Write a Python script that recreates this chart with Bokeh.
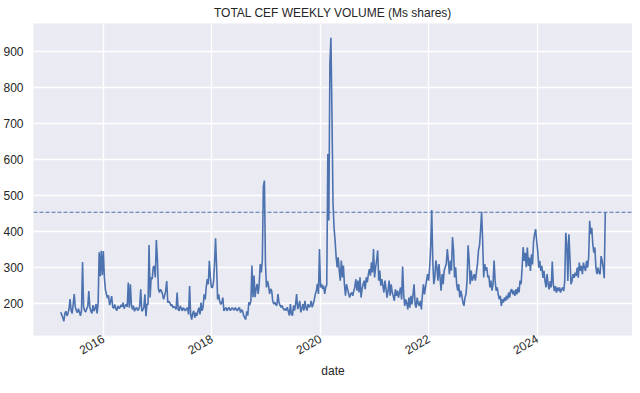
import pandas as pd
from math import pi
from bokeh.plotting import figure
from bokeh.models import Range1d, FixedTicker, DatetimeTickFormatter, Span, Title
from bokeh.embed import file_html
from bokeh.resources import INLINE

# ---- data: total CEF weekly volume (Ms shares), weekly from 2015-03-20 ----
first_week = "2015-03-20"

v2015 = [175, 168, 160, 150, 172, 178, 165, 172, 185, 212, 180, 172, 198, 226, 190, 180,
         174, 185, 176, 165, 180, 315, 190, 180, 176, 185, 190, 234, 190, 178, 172, 195,
         178, 186, 198, 172, 200, 342, 275, 346, 278]
v2016 = [345, 272, 238, 225, 215, 222, 195, 205, 220, 190, 186, 197, 184, 180, 193, 186,
         188, 196, 190, 202, 185, 193, 198, 190, 258, 188, 253, 196, 183, 193, 178, 185,
         188, 180, 183, 193, 239, 178, 182, 188, 225, 164, 198, 197, 362, 216, 272, 267,
         300, 304, 272, 376, 323]
v2017 = [240, 230, 239, 234, 225, 211, 222, 234, 262, 202, 206, 202, 193, 197, 188, 191,
         188, 183, 230, 183, 179, 193, 186, 179, 188, 183, 179, 185, 188, 169, 248, 169,
         155, 172, 179, 160, 174, 165, 178, 188, 169, 202, 179, 190, 225, 211, 244, 267,
         253, 318, 272, 244]
v2018 = [244, 258, 309, 381, 300, 211, 225, 205, 197, 202, 216, 179, 185, 188, 179, 186,
         188, 180, 183, 188, 184, 181, 188, 183, 179, 186, 188, 174, 182, 179, 166, 160,
         155, 178, 166, 203, 195, 207, 305, 217, 277, 217, 240, 254, 226, 254, 309, 286,
         319, 525, 541, 310]
v2019 = [244, 262, 249, 226, 240, 235, 207, 198, 203, 196, 194, 226, 203, 195, 189, 194,
         186, 181, 185, 180, 189, 178, 166, 198, 170, 166, 194, 180, 198, 226, 184, 192,
         207, 175, 185, 198, 180, 207, 188, 180, 198, 189, 192, 207, 189, 198, 210, 226,
         235, 254, 226, 351]
v2020 = [244, 254, 240, 249, 226, 244, 252, 615, 430, 865, 938, 726, 480, 411, 375, 330,
         300, 328, 291, 263, 319, 272, 305, 253, 221, 253, 239, 228, 216, 225, 230, 221,
         235, 245, 267, 235, 263, 230, 272, 216, 240, 253, 263, 239, 272, 258, 280, 295,
         277, 314, 286, 351]
v2021 = [272, 300, 319, 347, 263, 291, 249, 267, 249, 230, 263, 240, 216, 235, 263, 221,
         253, 230, 220, 207, 239, 221, 235, 216, 230, 244, 211, 302, 225, 193, 211, 200,
         183, 216, 188, 221, 197, 225, 253, 197, 188, 216, 200, 193, 207, 183, 221, 253,
         225, 245, 263, 281, 263]
v2022 = [300, 356, 459, 319, 253, 272, 319, 300, 263, 309, 272, 235, 281, 253, 291, 300,
         309, 351, 319, 281, 319, 291, 384, 347, 272, 300, 253, 235, 253, 216, 235, 221,
         202, 193, 216, 225, 263, 361, 319, 253, 291, 263, 272, 281, 263, 286, 309, 347,
         361, 403, 454, 375]
v2023 = [272, 309, 291, 300, 272, 277, 244, 263, 235, 253, 319, 263, 235, 244, 225, 211,
         221, 193, 211, 202, 216, 207, 221, 211, 230, 216, 235, 239, 225, 235, 221, 239,
         225, 244, 230, 263, 253, 300, 356, 318, 340, 300, 355, 304, 327, 290, 336, 308,
         373, 392, 406, 373]
v2024 = [345, 299, 318, 290, 304, 271, 290, 262, 244, 281, 253, 239, 262, 244, 316, 253,
         234, 248, 230, 244, 234, 244, 230, 239, 244, 234, 262, 396, 364, 262, 392, 327,
         253, 262, 281, 271, 285, 276, 299, 271, 313, 290, 304, 281, 313, 299, 290, 318,
         299, 327, 429, 392]
v2025 = [410, 364, 341, 355, 299, 281, 299, 285, 281, 331, 318, 299, 270, 453]

tick_years = [2016, 2018, 2020, 2022, 2024]
y_ticks = [200, 300, 400, 500, 600, 700, 800, 900]

volume = v2015 + v2016 + v2017 + v2018 + v2019 + v2020 + v2021 + v2022 + v2023 + v2024 + v2025
dates = pd.date_range(first_week, periods=len(volume), freq="7D")

# ---- ranges with matplotlib-like 5% margins ----
x0, x1 = dates[0].value / 1e6, dates[-1].value / 1e6
dx = (x1 - x0) * 0.05
ymin, ymax = min(volume), max(volume)
dy = (ymax - ymin) * 0.05

FONT = "Liberation Sans"
TXT = "#262626"
BLUE = "#4C72B0"

p = figure(width=632, height=377, output_backend="svg", toolbar_location=None,
           x_axis_type="datetime",
           x_range=Range1d(x0 - dx, x1 + dx), y_range=Range1d(ymin - dy, ymax + dy),
           background_fill_color="#EAEAF2", border_fill_color="white",
           outline_line_color=None, min_border_left=30, min_border_right=0,
           min_border_top=0, min_border_bottom=0,
           title="TOTAL CEF WEEKLY VOLUME (Ms shares)")

p.title.align = "center"
p.title.text_font = FONT
p.title.text_font_size = "12px"
p.title.text_font_style = "normal"
p.title.text_color = TXT
p.title.standoff = 7

p.line(dates, volume, line_color=BLUE, line_width=1.6)
p.add_layout(Span(location=volume[-1], dimension="width", line_color=BLUE,
                  line_width=1, line_dash="4 2"))

tick_ms = [pd.Timestamp(f"{y}-01-01").value / 1e6 for y in tick_years]
p.xaxis.ticker = FixedTicker(ticks=tick_ms)
p.xaxis.formatter = DatetimeTickFormatter(years="%Y", months="%Y", days="%Y",
                                          hours="%Y", minutes="%Y", seconds="%Y",
                                          milliseconds="%Y", microseconds="%Y")
p.xaxis.major_label_orientation = pi / 6
p.yaxis.ticker = FixedTicker(ticks=y_ticks)

for ax in (p.xaxis[0], p.yaxis[0]):
    ax.axis_line_color = None
    ax.major_tick_line_color = None
    ax.minor_tick_line_color = None
    ax.major_tick_out = 0
    ax.major_tick_in = 0
    ax.major_label_text_font = FONT
    ax.major_label_text_font_size = "12px"
    ax.major_label_text_color = TXT

p.yaxis.major_label_standoff = 10
p.xaxis.major_label_standoff = 2

# x-axis title "date" as a bottom title panel
p.add_layout(Title(text="date", align="center", text_font=FONT, text_font_size="12px",
                   text_font_style="normal", text_color=TXT, standoff=0), "below")

p.xgrid.grid_line_color = "white"
p.ygrid.grid_line_color = "white"
p.xgrid.grid_line_width = 1.3
p.ygrid.grid_line_width = 1.3

open("out.html", "w").write(file_html(p, INLINE))
